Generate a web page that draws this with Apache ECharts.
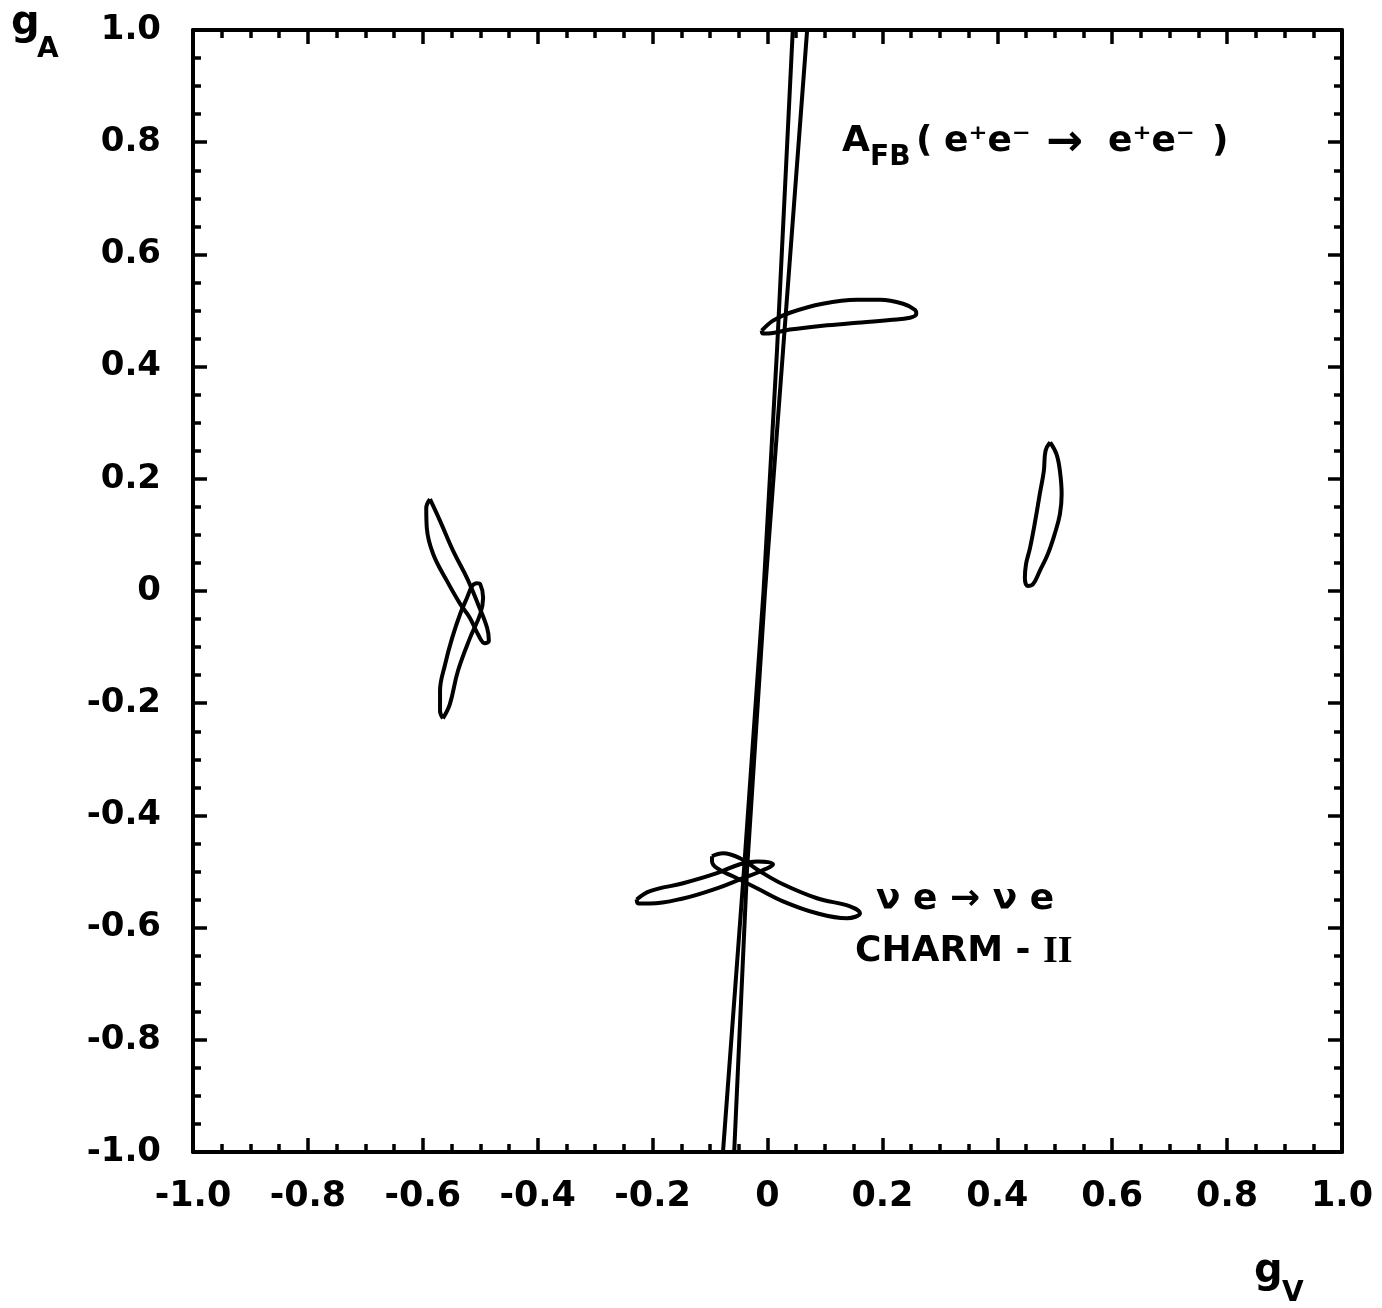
<!DOCTYPE html>
<html>
<head>
<meta charset="utf-8">
<script src="https://cdn.jsdelivr.net/npm/echarts@6/dist/echarts.min.js"></script>
<style>
html,body{margin:0;padding:0;background:#fff;}
#chart{width:1382px;height:1308px;}
</style>
</head>
<body>
<div id="chart"></div>
<script>
// Tick labels
var xTickLabels = ['-1.0','-0.8','-0.6','-0.4','-0.2','0','0.2','0.4','0.6','0.8','1.0'];
var yTickLabels = ['-1.0','-0.8','-0.6','-0.4','-0.2','0','0.2','0.4','0.6','0.8','1.0'];

// A_FB band: two nearly straight lines [gV, gA]
var afbLineA = [[0.044,1.0],[0.0165,0.428],[-0.007,-0.002],[-0.041,-0.498],[-0.0775,-1.0]];
var afbLineB = [[0.069,1.0],[0.027,0.428],[-0.0044,-0.002],[-0.0357,-0.498],[-0.058,-1.0]];

// Contours [gV, gA]
var contourTop = [[-0.010,0.464],[0.0096,0.482],[0.039,0.496],[0.096,0.512],[0.156,0.519],[0.196,0.519],[0.236,0.512],[0.257,0.501],[0.259,0.494],[0.248,0.487],[0.213,0.483],[0.156,0.478],[0.096,0.473],[0.039,0.466],[0.0096,0.460],[-0.008,0.459],[-0.010,0.464]];
var contourRight = [[0.492,0.265],[0.503,0.244],[0.509,0.214],[0.512,0.173],[0.509,0.137],[0.500,0.102],[0.488,0.066],[0.474,0.036],[0.462,0.012],[0.453,0.009],[0.448,0.023],[0.450,0.048],[0.457,0.077],[0.466,0.125],[0.474,0.173],[0.481,0.214],[0.484,0.250],[0.492,0.265]];
var contourLeft1 = [[-0.5875,0.1636],[-0.570,0.125],[-0.547,0.071],[-0.523,0.023],[-0.504,-0.023],[-0.488,-0.066],[-0.485,-0.089],[-0.492,-0.093],[-0.504,-0.077],[-0.518,-0.048],[-0.535,-0.023],[-0.558,0.018],[-0.582,0.066],[-0.593,0.112],[-0.594,0.148],[-0.5875,0.1636]];
var contourLeft2 = [[-0.565,-0.227],[-0.553,-0.202],[-0.539,-0.143],[-0.518,-0.084],[-0.500,-0.041],[-0.495,-0.012],[-0.500,0.012],[-0.506,0.014],[-0.514,0.009],[-0.523,-0.012],[-0.535,-0.041],[-0.549,-0.084],[-0.561,-0.130],[-0.570,-0.178],[-0.570,-0.214],[-0.565,-0.227]];
var contourBottom1 = [[-0.2277,-0.550],[-0.2045,-0.535],[-0.147,-0.521],[-0.088,-0.503],[-0.048,-0.487],[-0.018,-0.482],[0.0096,-0.487],[-0.013,-0.500],[-0.043,-0.512],[-0.088,-0.530],[-0.147,-0.548],[-0.2045,-0.557],[-0.225,-0.557],[-0.2277,-0.550]];
var contourBottom2 = [[-0.0966,-0.4728],[-0.0775,-0.4675],[-0.0479,-0.4764],[-0.0131,-0.4996],[0.027,-0.5228],[0.0862,-0.5477],[0.1436,-0.562],[0.161,-0.5745],[0.1384,-0.5834],[0.0862,-0.5745],[0.027,-0.5531],[-0.0183,-0.5299],[-0.0601,-0.5085],[-0.0879,-0.4942],[-0.0966,-0.4817],[-0.0966,-0.4728]];

var FONT = '"DejaVu Sans", Verdana, sans-serif';
var chart = echarts.init(document.getElementById('chart'), null, {renderer:'canvas'});

function lab(list){ return function(v){ var i = Math.round((v + 1) / 0.2); return list[i] !== undefined ? list[i] : ''; }; }

function axisBase(showLabel, labels, margin, size){
  return {
    type:'value', min:-1, max:1, interval:0.2,
    axisLine:{show:true, onZero:false, lineStyle:{color:'#000', width:4}},
    axisTick:{show:true, inside:true, length:14, lineStyle:{color:'#000', width:3.5}},
    minorTick:{show:true, splitNumber:4, length:8, lineStyle:{color:'#000', width:3.5}},
    splitLine:{show:false}, minorSplitLine:{show:false},
    axisLabel:{show:showLabel, formatter: lab(labels), color:'#000', fontSize:size, fontWeight:'bold', fontFamily:FONT, margin:margin}
  };
}

var xb = axisBase(true, xTickLabels, 27, 35); xb.position='bottom';
var xt = axisBase(false, xTickLabels, 0, 35); xt.position='top';
var yl = axisBase(true, yTickLabels, 32, 34); yl.position='left';
var yr = axisBase(false, yTickLabels, 0, 34); yr.position='right';

function lineSeries(data, smooth){
  return {type:'line', xAxisIndex:0, yAxisIndex:0, data:data, showSymbol:false, symbol:'none', smooth:smooth,
    lineStyle:{color:'#000', width:4}, silent:true, animation:false};
}

function txt(x, y, s, size){
  return {type:'text', x:x, y:y, style:{text:s, font:'bold '+size+'px '+FONT, fill:'#000', verticalAlign:'middle', align:'left'}};
}

chart.setOption({
  animation:false,
  backgroundColor:'#fff',
  grid:{left:193, right:40, top:30, bottom:156, containLabel:false},
  xAxis:[xb, xt],
  yAxis:[yl, yr],
  series:[
    lineSeries(afbLineA, false),
    lineSeries(afbLineB, false),
    lineSeries(contourTop, 0.4),
    lineSeries(contourRight, 0.4),
    lineSeries(contourLeft1, 0.4),
    lineSeries(contourLeft2, 0.4),
    lineSeries(contourBottom1, 0.4),
    lineSeries(contourBottom2, 0.4)
  ],
  graphic:[
    txt(11, 24, 'g', 40),
    txt(37, 50, 'A', 28),
    txt(1254, 1272, 'g', 40),
    txt(1282, 1294, 'V', 28),
    txt(842, 142, 'A', 36),
    txt(870, 158, 'FB', 28),
    txt(916, 142, '(', 36),
    txt(944, 142, 'e\u207Ae\u207B', 36),
    txt(1046, 144, '\u2192', 44),
    txt(1108, 142, 'e\u207Ae\u207B', 36),
    txt(1212, 142, ')', 36),
    txt(876, 900, '\u03BD e \u2192 \u03BD e', 36),
    {type:'text', x:855, y:952, style:{text:'{a|CHARM - }{b|II}', verticalAlign:'middle', align:'left',
      rich:{a:{font:'bold 36px '+FONT, fill:'#000'}, b:{font:'bold 38px "Liberation Serif", serif', fill:'#000'}}}}
  ]
});
</script>
</body>
</html>
